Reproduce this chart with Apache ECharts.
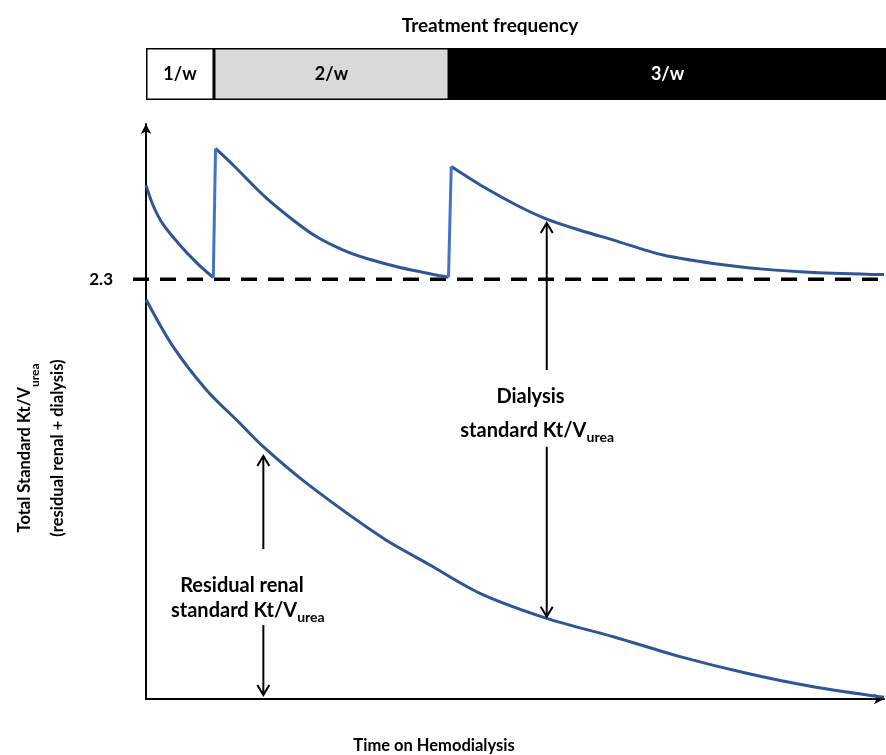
<!DOCTYPE html>
<html>
<head>
<meta charset="utf-8">
<script src="https://cdn.jsdelivr.net/npm/echarts@6/dist/echarts.min.js"></script>
<style>html,body{margin:0;padding:0;background:#fff}#c{width:886px;height:755px}</style>
</head>
<body>
<div id="c"></div>
<script>
// ---- Data (time on hemodialysis: arbitrary units 0-100; Kt/V values) ----
// Total standard Kt/V, one segment per treatment-frequency period
const seg1X = [0, 0.95, 2.30, 4.61, 6.91, 9.12];
const seg1Y = [2.815, 2.705, 2.601, 2.486, 2.388, 2.308];
const seg2X = [9.42, 11.83, 16.36, 19.96, 23.13, 26.73, 29.91, 34.42, 38.93, 40.99];
const seg2Y = [3.016, 2.924, 2.742, 2.623, 2.532, 2.459, 2.413, 2.364, 2.326, 2.311];
const seg3X = [41.36, 45.71, 50.23, 54.30, 58.81, 63.32, 70.09, 76.87, 83.64, 90.42, 100];
const seg3Y = [2.917, 2.806, 2.705, 2.629, 2.568, 2.514, 2.432, 2.386, 2.355, 2.337, 2.325];
// Residual renal standard Kt/V
const resX = [0, 3.70, 8.22, 12.74, 15.89, 21.78, 32.15, 38.48, 45.26, 54.30, 63.32, 72.36, 81.40, 90.42, 100];
const resY = [2.189, 1.929, 1.692, 1.510, 1.382, 1.181, 0.880, 0.734, 0.579, 0.442, 0.341, 0.232, 0.141, 0.067, 0.009];
// Target line and y tick label
const targetValue = 2.3;
const yLabelValues = [2.3];
// Treatment frequency periods
const freqLabels = ['1/w', '2/w', '3/w'];
const freqStart = [0, 9.21, 41.06];
const freqEnd = [9.21, 41.06, 100.27];
// Annotation arrows: [x, yFrom, yTo] (head at yTo)
const arrowX = [15.9, 15.9, 54.3, 54.3];
const arrowFrom = [0.821, 0.405, 1.802, 1.382];
const arrowTo = [1.331, 0.022, 2.608, 0.451];

const zip = (xs, ys) => xs.map((x, i) => [x, ys[i]]);
const FONT = 'Lato, "Open Sans", sans-serif';
const DARK = '#2F5597';
const LIGHT = '#4472C4';

const chart = echarts.init(document.getElementById('c'));

const lineSeries = (data, color) => ({
  type: 'line', xAxisIndex: 0, yAxisIndex: 0, data: data,
  symbol: 'none', showSymbol: false, smooth: 0.3,
  lineStyle: { color: color, width: 3 }, silent: true, z: 3
});

const freqColors = ['#ffffff', '#d9d9d9', '#000000'];
const barSeries = freqLabels.map((lab, i) => ({
  type: 'bar', xAxisIndex: 1, yAxisIndex: 1, stack: 'freq', barWidth: '100%',
  data: [freqEnd[i] - freqStart[i]], silent: true,
  itemStyle: { color: freqColors[i], borderColor: '#000', borderWidth: 1.5 },
  label: { show: true, position: 'inside', formatter: lab, color: i === 2 ? '#fff' : '#000',
           fontSize: 18, fontWeight: 'bold', fontFamily: FONT }
}));

const seg1 = zip(seg1X, seg1Y), seg2 = zip(seg2X, seg2Y), seg3 = zip(seg3X, seg3Y);
const option = {
  animation: false,
  backgroundColor: '#fff',
  grid: [
    { left: 146, right: 2, top: 124, bottom: 56 },
    { left: 146, right: 0, top: 48, height: 52 }
  ],
  xAxis: [
    { gridIndex: 0, type: 'value', min: 0, max: 100,
      axisLine: { show: true, onZero: false, symbol: ['none', 'arrow'], symbolSize: [8, 10], lineStyle: { color: '#000', width: 2 } },
      axisTick: { show: false }, axisLabel: { show: false }, splitLine: { show: false } },
    { gridIndex: 1, type: 'value', min: 0, max: 100.27, show: false }
  ],
  yAxis: [
    { gridIndex: 0, type: 'value', min: 0, max: 3.15,
      axisLine: { show: true, onZero: false, symbol: ['none', 'arrow'], symbolSize: [8, 10], lineStyle: { color: '#000', width: 2 } },
      axisTick: { show: false }, splitLine: { show: false },
      axisLabel: { show: true, customValues: yLabelValues, formatter: v => Number(v).toFixed(1),
                   fontSize: 17, fontWeight: 'bold', color: '#000', margin: 33, fontFamily: FONT } },
    { gridIndex: 1, type: 'category', data: ['freq'], show: false }
  ],
  series: [
    lineSeries(seg1, DARK),
    lineSeries(seg2, DARK),
    lineSeries(seg3, DARK),
    lineSeries([seg1[seg1.length - 1], seg2[0]], LIGHT),
    lineSeries([seg2[seg2.length - 1], seg3[0]], LIGHT),
    lineSeries(zip(resX, resY), DARK)
  ].concat(barSeries)
};
chart.setOption(option);

// ---- Annotations placed through the chart's own scales ----
const P = (x, y) => chart.convertToPixel({ gridIndex: 0 }, [x, y]);
const graphics = [];
const dL = P(-1.76, targetValue), dR = P(100.27, targetValue);
graphics.push({ type: 'line', z: 1, shape: { x1: dL[0], y1: dL[1], x2: dR[0], y2: dR[1] },
                style: { stroke: '#000', lineWidth: 3.5, lineDash: [16, 11] } });
arrowX.forEach((x, i) => {
  const a = P(x, arrowFrom[i]), b = P(x, arrowTo[i]);
  const dir = b[1] < a[1] ? 1 : -1;
  graphics.push({ type: 'line', z: 5, shape: { x1: a[0], y1: a[1], x2: b[0], y2: b[1] },
                  style: { stroke: '#000', lineWidth: 2 } });
  graphics.push({ type: 'polyline', z: 5, shape: { points: [[b[0] - 6, b[1] + dir * 10], [b[0], b[1]], [b[0] + 6, b[1] + dir * 10]] },
                  style: { stroke: '#000', lineWidth: 2, fill: null } });
});
// rich style for a subscript "urea": lineHeight L, subscript size fs, downward offset off
const subRich = (L, fs, off) => ({ sub: { fontSize: fs, fontWeight: 'bold', fontFamily: FONT,
                                          lineHeight: L - 2 * off, verticalAlign: 'bottom' } });
const txt = (text, x, y, fs) => ({
  type: 'text', z: 6, x: x, y: y,
  style: { text: text, fill: '#000', fontSize: fs, fontWeight: 'bold', fontFamily: FONT,
           align: 'center', verticalAlign: 'middle', lineHeight: fs + 8,
           rich: subRich(fs + 8, Math.round(fs * 0.72), Math.round(fs * 0.32)) }
});
const n1 = P(13.0, 0.624), n2 = P(13.8, 0.487), n3 = P(52.1, 1.659), n4 = P(53.0, 1.473);
graphics.push(txt('Residual renal', n1[0], n1[1], 20));
graphics.push(txt('standard Kt/V{sub|urea}', n2[0], n2[1], 20));
graphics.push(txt('Dialysis', n3[0], n3[1], 20));
graphics.push(txt('standard Kt/V{sub|urea}', n4[0], n4[1], 20));
// titles
graphics.push(txt('Treatment frequency', 490, 26, 19));
graphics.push(txt('Time on Hemodialysis', 434, 746, 16.5));
graphics.push({ type: 'text', z: 6, x: 41, y: 448, rotation: Math.PI / 2,
  style: { text: 'Total Standard Kt/V{sub|urea}\n(residual renal + dialysis)', fill: '#000', fontSize: 16.5,
           fontWeight: 'bold', fontFamily: FONT, align: 'center', verticalAlign: 'middle', lineHeight: 33,
           rich: subRich(33, 12, 5) } });
chart.setOption({ graphic: graphics });
</script>
</body>
</html>
